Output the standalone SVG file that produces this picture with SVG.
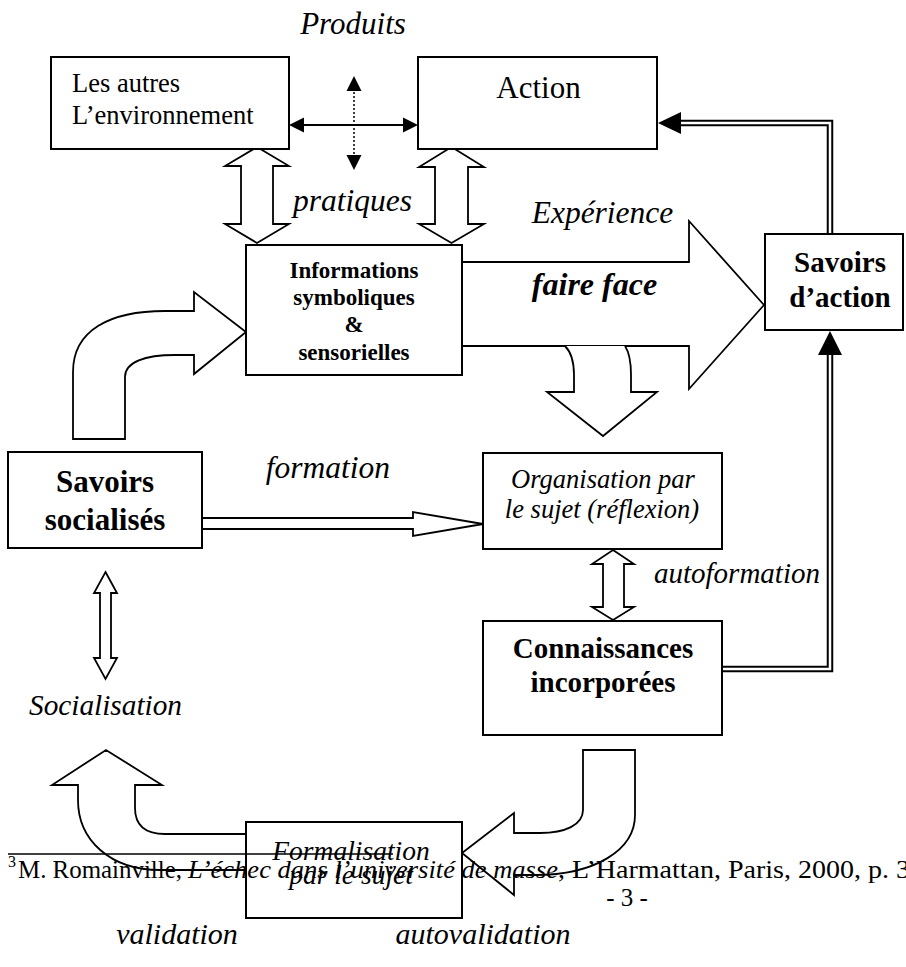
<svg xmlns="http://www.w3.org/2000/svg" width="906" height="967" viewBox="0 0 906 967">
<style>
text{font-family:"Liberation Serif","Times New Roman",serif;fill:#000}
.box{fill:#fff;stroke:#000;stroke-width:2}
.blk{fill:#fff;stroke:#000;stroke-width:1.8;stroke-linejoin:miter}
.it{font-style:italic}
.b{font-weight:bold}
.m{text-anchor:middle}
.dblo{fill:none;stroke:#000;stroke-width:6.5}
.dbli{fill:none;stroke:#fff;stroke-width:2.5}
.head{fill:#000;stroke:none}
</style>
<rect width="906" height="967" fill="#fff"/>
<g id="connectors">
  <!-- faire face big arrow -->
  <path class="blk" d="M462,262 L689,262 L689,221 L764,305 L689,389 L689,346 L462,346"/>
  <!-- down arrow from faire face -->
  <path class="blk" d="M565,346 C571,352 574,362 574,375 L574,392 L547,392 L603,436 L657,392 L631,392 L631,375 C631,362 629,352 625,346"/>
  <!-- curved arrow Savoirs socialises -> Informations -->
  <path class="blk" d="M73,439 L73,372 C73,330 110,311 165,311 L194,311 L194,292 L246,332 L194,374 L194,355 L175,355 C145,355 125,362 125,377 L125,439 Z"/>
  <!-- pratiques double arrows -->
  <polygon class="blk" points="257,147 289,166 273,166 273,224 289,224 257,243 225,224 241,224 241,166 225,166"/>
  <polygon class="blk" points="451.5,147 484,167 468,167 468,224 484,224 451.5,243 419,224 435,224 435,167 419,167"/>
  <!-- horizontal arrow Les autres <-> Action -->
  <line x1="300" y1="125" x2="406" y2="125" stroke="#000" stroke-width="2"/>
  <polygon class="head" points="289,125 304,117.5 304,132.5"/>
  <polygon class="head" points="418,125 403,117.5 403,132.5"/>
  <!-- dotted vertical arrow -->
  <line x1="354" y1="88" x2="354" y2="158" stroke="#000" stroke-width="1.5" stroke-dasharray="2,2"/>
  <polygon class="head" points="354,76 346.5,91 361.5,91"/>
  <polygon class="head" points="354,170 346.5,155 361.5,155"/>
  <!-- formation arrow -->
  <path class="blk" stroke-width="1.5" d="M202,518 L413,518 L413,512 L483,524 L413,536 L413,529 L202,529"/>
  <!-- autoformation double arrow -->
  <polygon class="blk" points="613,550 634,564 624,564 624,607 634,607 613,620 592,607 603,607 603,564 592,564"/>
  <!-- socialisation double arrow -->
  <polygon class="blk" stroke-width="1.5" points="105.5,572 117,593 111,593 111,658 117,658 105.5,679 94,658 100,658 100,593 94,593"/>
  <!-- Savoirs d'action -> Action (double line) -->
  <path class="dblo" d="M830,234 L830,123 L680,123"/>
  <path class="dbli" d="M830,234 L830,123 L680,123"/>
  <polygon class="head" points="658,123 681,112 681,134"/>
  <!-- Connaissances -> Savoirs d'action (double line) -->
  <path class="dblo" d="M722,669 L830,669 L830,354"/>
  <path class="dbli" d="M722,669 L830,669 L830,354"/>
  <polygon class="head" points="830,331 818,355 842,355"/>
  <!-- validation curved up arrow -->
  <path class="blk" stroke-width="1.5" d="M246,870 L160,870 C110,870 78,840 78,800 L78,785 L52,785 L106,750 L162,785 L135,785 L135,808 C135,825 145,834 165,834 L246,834"/>
  <!-- autovalidation curved arrow -->
  <path class="blk" stroke-width="1.5" d="M583,750 L635,750 L635,815 C635,850 595,875 535,875 L514,875 L514,895 L462,853 L514,813 L514,833 L540,833 C565,833 583,825 583,810 Z"/>
</g>
<g id="les-autres">
  <rect class="box" x="51" y="57" width="238" height="92"/>
  <text x="72" y="92" font-size="26.5">Les autres</text>
  <text x="72" y="124" font-size="26.5">L’environnement</text>
</g>
<g id="action">
  <rect class="box" x="418" y="57" width="239" height="92"/>
  <text class="m" x="538.5" y="98" font-size="31">Action</text>
</g>
<g id="informations">
  <rect class="box" x="246" y="245" width="216" height="130"/>
  <text class="b m" x="354" y="278" font-size="23">Informations</text>
  <text class="b m" x="354" y="305" font-size="23">symboliques</text>
  <text class="b m" x="354" y="332" font-size="23">&amp;</text>
  <text class="b m" x="354" y="360" font-size="23">sensorielles</text>
</g>
<g id="savoirs-action">
  <rect class="box" x="765" y="234" width="138" height="96"/>
  <text class="b m" x="840" y="272" font-size="29">Savoirs</text>
  <text class="b m" x="840" y="307" font-size="29">d’action</text>
</g>
<g id="savoirs-socialises">
  <rect class="box" x="8" y="452" width="194" height="96"/>
  <text class="b m" x="105" y="492" font-size="31">Savoirs</text>
  <text class="b m" x="105" y="530" font-size="31">socialisés</text>
</g>
<g id="organisation">
  <rect class="box" x="483" y="453" width="239" height="96"/>
  <text class="it m" x="603" y="488" font-size="26.5">Organisation par</text>
  <text class="it m" x="602" y="518" font-size="26.5">le sujet (réflexion)</text>
</g>
<g id="connaissances">
  <rect class="box" x="483" y="621" width="239" height="114"/>
  <text class="b m" x="603" y="658" font-size="29">Connaissances</text>
  <text class="b m" x="603" y="692" font-size="29">incorporées</text>
</g>
<g id="formalisation">
  <rect class="box" x="246" y="822" width="216" height="96" stroke-width="1.5"/>
  <text class="it m" x="351" y="860" font-size="27.5">Formalisation</text>
  <text class="it m" x="351" y="884" font-size="27.5">par le sujet</text>
</g>
<g id="labels">
  <text class="it m" x="353" y="34" font-size="31">Produits</text>
  <text class="it m" x="352.5" y="211" font-size="31.5">pratiques</text>
  <text class="it m" x="602.5" y="223" font-size="31.5">Expérience</text>
  <text class="it b m" x="594.5" y="295" font-size="32">faire face</text>
  <text class="it m" x="328" y="478" font-size="31.5">formation</text>
  <text class="it" x="654" y="583" font-size="29">autoformation</text>
  <text class="it m" x="105.5" y="715" font-size="29.3">Socialisation</text>
  <text class="it m" x="177" y="944" font-size="30">validation</text>
  <text class="it m" x="483" y="944" font-size="30">autovalidation</text>
</g>
<g id="footnote">
  <line x1="8" y1="854" x2="393" y2="854" stroke="#000" stroke-width="1.5"/>
  <text x="8" y="867" font-size="16">3</text>
  <text y="878" font-size="25"><tspan x="18" textLength="164" lengthAdjust="spacingAndGlyphs">M. Romainville,</tspan><tspan class="it" x="188" textLength="370" lengthAdjust="spacingAndGlyphs">L’échec dans l’université de masse</tspan><tspan x="558" textLength="352" lengthAdjust="spacingAndGlyphs">, L’Harmattan, Paris, 2000, p. 3</tspan></text>
  <text class="m" x="627" y="906" font-size="25">- 3 -</text>
</g>
</svg>
